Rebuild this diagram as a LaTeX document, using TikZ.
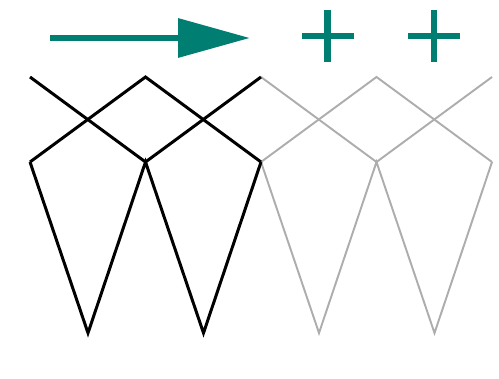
\documentclass[tikz,border=0pt]{standalone}
\usetikzlibrary{arrows.meta}
\definecolor{tealmark}{RGB}{0,126,114}
\begin{document}
\begin{tikzpicture}[%
    x=0.02cm,y=-0.02cm,%
    darkline/.style={draw,black,line width=1.7pt,line join=miter},%
    lightline/.style={draw,black!32,line width=1.1pt,line join=miter},%
    markline/.style={draw,tealmark,line width=0.13cm},%
]%
    \useasboundingbox (0,0) rectangle (499,378);
    \pgfmathsetmacro{\w}{115.5}

    % vertices of the strip
    \foreach \i in {0,...,4}{%
        \coordinate (t\i) at ({30+\w*\i},77);
        \coordinate (m\i) at ({30+\w*\i},162);
    }
    \foreach \i in {1,...,4}{%
        \coordinate (b\i) at ({88+\w*(\i-1)},333);
    }

    % repeated part, grey
    \path[lightline] (t2) -- (m3) -- (t4);
    \path[lightline] (m2) -- (t3) -- (m4);
    \path[lightline] (m2) -- (b3) -- (m3) -- (b4) -- (m4);

    % base part, black
    \path[darkline] (t0) -- (m1) -- (t2);
    \path[darkline] (m0) -- (t1) -- (m2);
    \path[darkline] (m0) -- (b1) -- (m1) -- (b2) -- (m2);

    % arrow and plus signs
    \coordinate (a0) at (50,38);
    \coordinate (a1) at (250,38);
    \path[markline,-{Triangle[length=1.44cm,width=0.76cm]}] (a0) -- (a1);
    \foreach \cx [count=\k] in {327.5,434}{%
        \coordinate (p\k l) at (\cx-26,36);
        \coordinate (p\k r) at (\cx+26,36);
        \coordinate (p\k t) at (\cx,10);
        \coordinate (p\k b) at (\cx,62);
        \path[markline] (p\k l) -- (p\k r);
        \path[markline] (p\k t) -- (p\k b);
    }
\end{tikzpicture}
\end{document}
